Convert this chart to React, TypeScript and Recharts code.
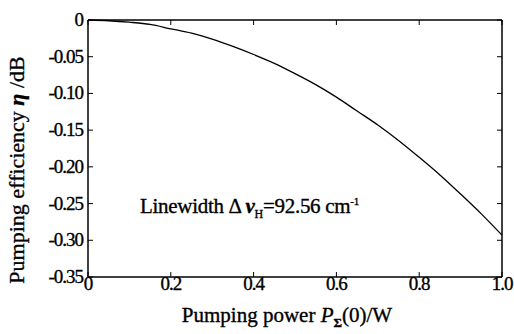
import { LineChart, Line, XAxis, YAxis } from 'recharts';

// pump power (W) and pumping efficiency (dB)
const power = [0, 0.05, 0.1, 0.15, 0.2, 0.25, 0.3, 0.35, 0.4, 0.45, 0.5, 0.55, 0.6, 0.65, 0.7, 0.75, 0.8, 0.85, 0.9, 0.95, 1.0];
const efficiency = [0, -0.001, -0.003, -0.006, -0.012, -0.018, -0.026, -0.036, -0.047, -0.059, -0.073, -0.088, -0.105, -0.124, -0.143, -0.164, -0.187, -0.211, -0.237, -0.264, -0.293];

const xTicks = [0, 0.2, 0.4, 0.6, 0.8, 1.0];
const yTicks = [0, -0.05, -0.1, -0.15, -0.2, -0.25, -0.3, -0.35];

const data = power.map((p, i) => ({ p, eta: efficiency[i] }));

const font = '"Liberation Serif", "Times New Roman", serif';
const textStyle = { fontFamily: font, stroke: '#000', strokeWidth: 0.35 };

const fmtX = (v: number) => (v === 0 ? '0' : v.toFixed(1));
const fmtY = (v: number) => (v === 0 ? '0' : v.toFixed(2));

const XTick = (props: any) => {
  const { x, y, payload } = props;
  return (
    <text x={x} y={y + 16} textAnchor="middle" style={{ ...textStyle, fontSize: 19, letterSpacing: -1 }} fill="#000">
      {fmtX(payload.value)}
    </text>
  );
};

const YTick = (props: any) => {
  const { y, payload } = props;
  return (
    <text x={83} y={y + 6} textAnchor="end" style={{ ...textStyle, fontSize: 19, letterSpacing: -1 }} fill="#000">
      {fmtY(payload.value)}
    </text>
  );
};

const NoTick = () => <g />;

export default function App() {
  return (
    <div style={{ position: 'absolute', left: 0, top: 0, width: 514, height: 334, background: '#fff', fontFamily: font }}>
      <LineChart width={514} height={334} data={data} margin={{ top: 19, right: 11, left: 0, bottom: 0 }}>
        <XAxis
          dataKey="p"
          type="number"
          domain={[0, 1]}
          ticks={xTicks}
          height={57}
          tickSize={-5}
          tick={<XTick />}
          stroke="#000"
          axisLine={{ stroke: '#000', strokeWidth: 1.5 }}
          label={{
            content: () => (
              <text x={287} y={322} textAnchor="middle" style={{ ...textStyle, fontSize: 21 }} fill="#000">
                Pumping power <tspan fontStyle="italic">P</tspan>
                <tspan fontSize={13} dy={5} fontWeight="bold">Σ</tspan>
                <tspan dy={-5}>(0)/W</tspan>
              </text>
            ),
          }}
        />
        <XAxis
          xAxisId="top"
          orientation="top"
          dataKey="p"
          type="number"
          domain={[0, 1]}
          ticks={xTicks}
          tick={<NoTick />}
          height={1}
          tickSize={-5}
          stroke="#000"
          axisLine={{ stroke: '#000', strokeWidth: 1.5 }}
        />
        <YAxis
          type="number"
          domain={[-0.35, 0]}
          ticks={yTicks}
          width={88}
          tickSize={-5}
          tick={<YTick />}
          stroke="#000"
          axisLine={{ stroke: '#000', strokeWidth: 1.5 }}
          label={{
            content: () => (
              <text
                x={0}
                y={0}
                transform="translate(24 170) rotate(-90)"
                textAnchor="middle"
                style={{ ...textStyle, fontSize: 22 }}
                fill="#000"
              >
                Pumping efficiency <tspan fontStyle="italic" fontWeight="bold">η</tspan> /dB
              </text>
            ),
          }}
        />
        <YAxis
          yAxisId="right"
          orientation="right"
          type="number"
          domain={[-0.35, 0]}
          ticks={yTicks}
          tick={<NoTick />}
          width={1}
          tickSize={-5}
          stroke="#000"
          axisLine={{ stroke: '#000', strokeWidth: 1.5 }}
        />
        <Line
          type="monotone"
          dataKey="eta"
          stroke="#000"
          strokeWidth={1.3}
          dot={false}
          isAnimationActive={false}
        />
        {/* invisible copy so the mirrored top/right axes get drawn */}
        <Line
          xAxisId="top"
          yAxisId="right"
          type="monotone"
          dataKey="eta"
          stroke="none"
          dot={false}
          activeDot={false}
          isAnimationActive={false}
        />
      </LineChart>
      <div
        style={{
          position: 'absolute',
          left: 140,
          top: 194,
          fontFamily: font,
          fontSize: 21,
          color: '#000',
          whiteSpace: 'nowrap',
          letterSpacing: -0.3,
          WebkitTextStroke: '0.35px #000',
        }}
      >
        Linewidth Δ <i style={{ fontWeight: 'bold' }}>ν</i>
        <sub style={{ fontSize: 12 }}>H</sub>=92.56 cm<sup style={{ fontSize: 11 }}>-1</sup>
      </div>
    </div>
  );
}
